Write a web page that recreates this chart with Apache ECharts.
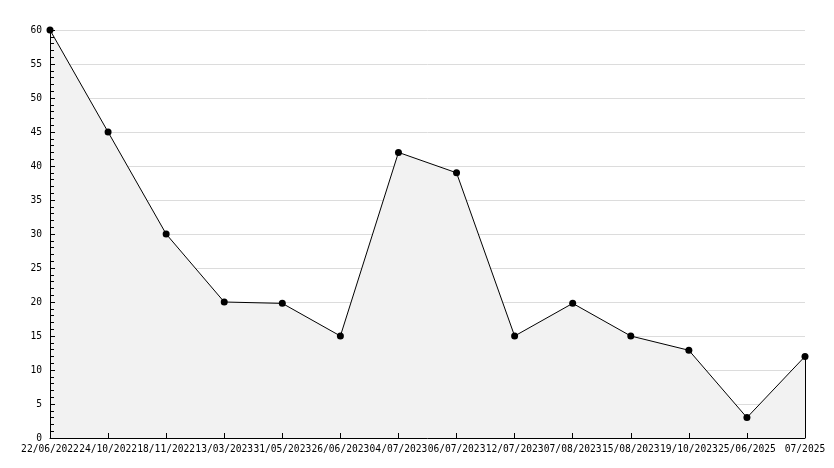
<!DOCTYPE html>
<html>
<head>
<meta charset="utf-8">
<script src="https://cdn.jsdelivr.net/npm/echarts@6/dist/echarts.min.js"></script>
<style>html,body{margin:0;padding:0;background:#fff}#c{width:834px;height:468px}</style>
</head>
<body>
<div id="c"></div>
<script>
const categories = ["22/06/2022","24/10/2022","18/11/2022","13/03/2023","31/05/2023","26/06/2023","04/07/2023","06/07/2023","12/07/2023","07/08/2023","15/08/2023","19/10/2023","25/06/2025","07/2025"];
const values = [60, 45, 30, 20, 19.8, 15, 42, 39, 15, 19.8, 15, 12.9, 3, 12];
const yMin = 0, yMax = 60, yStep = 5;

const font = { fontFamily: "DejaVu Sans Mono", fontSize: 9.6, color: "#000" };
const lastIdx = categories.length - 1;

const chart = echarts.init(document.getElementById('c'), null, { renderer: 'canvas' });
chart.setOption({
  animation: false,
  backgroundColor: '#fff',
  grid: { left: 50, right: 29, top: 30, bottom: 30, containLabel: false },
  xAxis: {
    type: 'category',
    data: categories,
    boundaryGap: false,
    z: 10,
    axisLine: { lineStyle: { color: '#000', width: 1 } },
    axisTick: { inside: true, length: 5, lineStyle: { color: '#000' } },
    axisLabel: Object.assign({ interval: 0, margin: 6, hideOverlap: false }, font),
    splitLine: { show: false }
  },
  yAxis: [{
    type: 'value',
    min: yMin, max: yMax, interval: yStep,
    z: 0,
    axisLine: { show: false },
    axisTick: { show: false },
    axisLabel: { show: false },
    splitLine: { show: true, lineStyle: { color: '#dcdcdc', width: 1 } }
  }, {
    type: 'value',
    position: 'left',
    min: yMin, max: yMax, interval: yStep,
    z: 10,
    axisLine: { show: true, lineStyle: { color: '#000', width: 1 } },
    axisTick: { show: true, inside: true, length: 5, lineStyle: { color: '#000' } },
    minorTick: { show: true, splitNumber: 5, length: 4, lineStyle: { color: '#000' } },
    axisLabel: Object.assign({ margin: 8 }, font),
    splitLine: { show: false }
  }],
  series: [{
    type: 'line',
    yAxisIndex: 0,
    data: values,
    symbol: 'circle',
    symbolSize: 7,
    z: 3,
    itemStyle: { color: '#000' },
    lineStyle: { color: '#000', width: 1 },
    areaStyle: { color: '#f2f2f2', opacity: 1 },
    markLine: {
      silent: true,
      symbol: 'none',
      label: { show: false },
      lineStyle: { color: '#000', width: 1, type: 'solid' },
      data: [[{ coord: [lastIdx, yMin] }, { coord: [lastIdx, values[lastIdx]] }]]
    }
  }]
});
</script>
</body>
</html>
